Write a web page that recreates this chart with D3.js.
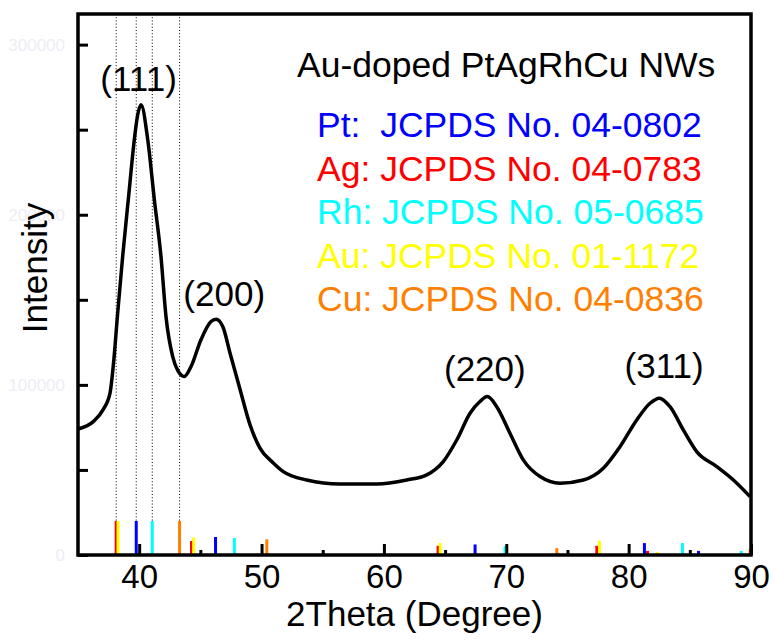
<!DOCTYPE html>
<html>
<head>
<meta charset="utf-8">
<script src="https://cdn.jsdelivr.net/npm/d3@7"></script>
<style>
body { margin: 0; background: #fff; }
text { font-family: "Liberation Sans", Arial, sans-serif; }
</style>
</head>
<body>
<script>
var w = 774;
var h = 644;
var plotLeft = 78, plotRight = 751, plotTop = 14, plotBottom = 555;

// XRD pattern (2theta, intensity)
var twoTheta = [35.0, 36.25, 37.04, 37.62, 37.88, 38.24, 38.65, 39.19, 39.60, 39.88,
  40.15, 40.70, 41.24, 41.78, 42.19, 42.74, 43.17, 43.69, 44.24, 45.05,
  45.87, 46.28, 46.83, 47.45, 48.20, 49.06, 49.87, 50.96, 51.78, 53.69,
  56.41, 59.41, 61.86, 63.50, 64.85, 65.95, 67.04, 67.85, 68.45, 69.22,
  70.30, 71.39, 72.76, 74.39, 76.30, 77.93, 79.30, 80.66, 81.75, 82.51,
  83.38, 84.47, 85.56, 87.20, 88.56, 89.92];
var intensity = [74100, 78400, 85300, 95300, 111000, 142000, 175500, 214700, 244100, 258800,
  264700, 244100, 208800, 175500, 140200, 116600, 108200, 104900, 110800, 126500,
  137200, 138600, 134300, 118000, 98500, 76500, 62800, 54100, 49000, 44100,
  41800, 41800, 44100, 47100, 54900, 67600, 83300, 90200, 93100, 87200,
  71600, 55900, 46100, 42200, 44100, 51000, 63700, 79400, 89200, 92200,
  87200, 73500, 60800, 52000, 44100, 34300];

// standard cards: positions and relative intensities
var ptPos = [39.76, 46.24, 67.45, 81.29, 85.71];
var ptRel = [100, 53, 31, 35, 12];
var agPos = [38.12, 44.28, 64.43, 77.40, 81.54];
var agRel = [100, 41, 27, 27, 12];
var rhPos = [41.07, 47.78, 69.90, 84.40, 89.20];
var rhRel = [100, 50, 26, 35, 12];
var auPos = [38.27, 44.45, 64.60, 77.62, 82.35];
var auRel = [100, 52, 35, 42, 9];
var cuPos = [43.30, 50.43, 74.13, 89.93];
var cuRel = [100, 46, 20, 17];

var guideLines = [38.12, 39.76, 41.07, 43.30];

var peakLabels = ["(111)", "(200)", "(220)", "(311)"];
var peakLabelPos = [[39.95, 91], [46.95, 306], [68.25, 381], [82.9, 378]];

var legendLines = ["Pt:  JCPDS No. 04-0802", "Ag: JCPDS No. 04-0783", "Rh: JCPDS No. 05-0685",
  "Au: JCPDS No. 01-1172", "Cu: JCPDS No. 04-0836"];
var legendColors = ["#0000ff", "#ff0000", "#00ffff", "#ffff00", "#ff8000"];

var xMajor = [40, 50, 60, 70, 80, 90];
var xMinor = [45, 55, 65, 75, 85];
var yMajor = [0, 100000, 200000, 300000];
var yMinor = [50000, 150000, 250000];

var xScale = d3.scaleLinear().domain([35, 90]).range([plotLeft, plotRight]);
var yScale = d3.scaleLinear().domain([0, 318000]).range([plotBottom, plotTop]);
// relative intensity of a card line -> intensity units (100 % = 20000)
var relScale = d3.scaleLinear().domain([0, 100]).range([0, 20000]);

var svg = d3.select("body").append("svg")
  .attr("width", w)
  .attr("height", h);

// dotted guide lines
svg.selectAll(".guide")
  .data(guideLines)
  .enter().append("line")
  .attr("x1", function(d) { return xScale(d); })
  .attr("x2", function(d) { return xScale(d); })
  .attr("y1", plotTop)
  .attr("y2", plotBottom)
  .attr("stroke", "#000")
  .attr("stroke-width", 1)
  .attr("stroke-dasharray", "1,2.2");

// card bars
var cards = [
  {pos: ptPos, rel: ptRel, color: legendColors[0]},
  {pos: agPos, rel: agRel, color: legendColors[1]},
  {pos: rhPos, rel: rhRel, color: legendColors[2]},
  {pos: auPos, rel: auRel, color: legendColors[3]},
  {pos: cuPos, rel: cuRel, color: legendColors[4]}
];
cards.forEach(function(c) {
  svg.append("g").selectAll("rect")
    .data(c.pos)
    .enter().append("rect")
    .attr("x", function(d) { return xScale(d) - 1.5; })
    .attr("y", function(d, i) { return yScale(relScale(c.rel[i])); })
    .attr("width", 3)
    .attr("height", function(d, i) { return yScale(0) - yScale(relScale(c.rel[i])); })
    .attr("fill", c.color);
});

// pattern line
var line = d3.line()
  .x(function(d, i) { return xScale(twoTheta[i]); })
  .y(function(d) { return yScale(d); })
  .curve(d3.curveMonotoneX);

svg.append("path")
  .datum(intensity)
  .attr("d", line)
  .attr("fill", "none")
  .attr("stroke", "#000")
  .attr("stroke-width", 3.5)
  .attr("stroke-linejoin", "round");

// axes
var xAxis = d3.axisBottom(xScale).tickValues(xMajor).tickSize(-11).tickPadding(10).tickFormat(d3.format("d"));
var xAxisMinor = d3.axisBottom(xScale).tickValues(xMinor).tickSize(-5).tickFormat("");
var yAxis = d3.axisLeft(yScale).tickValues(yMajor).tickSize(-10).tickPadding(13).tickFormat(d3.format("d"));
var yAxisMinor = d3.axisLeft(yScale).tickValues(yMinor).tickSize(-10).tickFormat("");

var gx = svg.append("g").attr("transform", "translate(0," + plotBottom + ")").call(xAxis);
svg.append("g").attr("transform", "translate(0," + plotBottom + ")").call(xAxisMinor);
var gy = svg.append("g").attr("transform", "translate(" + plotLeft + ",0)").call(yAxis);
svg.append("g").attr("transform", "translate(" + plotLeft + ",0)").call(yAxisMinor);

svg.selectAll(".domain").attr("stroke", "none");
svg.selectAll(".tick line").attr("stroke", "#000").attr("stroke-width", 3);
gx.selectAll("text").attr("font-size", 33).attr("fill", "#000")
  .style("font-family", "'Liberation Sans', Arial, sans-serif");
gy.selectAll("text").attr("font-size", 17).attr("fill", "#eeedf5")
  .style("font-family", "'Liberation Sans', Arial, sans-serif");

// frame
svg.append("rect")
  .attr("x", plotLeft)
  .attr("y", plotTop)
  .attr("width", plotRight - plotLeft)
  .attr("height", plotBottom - plotTop)
  .attr("fill", "none")
  .attr("stroke", "#000")
  .attr("stroke-width", 3.5);

// peak labels
svg.selectAll(".peak")
  .data(peakLabels)
  .enter().append("text")
  .attr("x", function(d, i) { return xScale(peakLabelPos[i][0]); })
  .attr("y", function(d, i) { return peakLabelPos[i][1]; })
  .attr("text-anchor", "middle")
  .attr("font-size", 35)
  .text(function(d) { return d; });

// legend
svg.append("text")
  .attr("x", 297)
  .attr("y", 77)
  .attr("font-size", 35.5)
  .text("Au-doped PtAgRhCu NWs");

svg.selectAll(".leg")
  .data(legendLines)
  .enter().append("text")
  .attr("x", 317)
  .attr("y", function(d, i) { return 137 + i * 43.5; })
  .attr("font-size", 35.5)
  .attr("fill", function(d, i) { return legendColors[i]; })
  .style("white-space", "pre")
  .text(function(d) { return d; });

// axis titles
svg.append("text")
  .attr("x", (plotLeft + plotRight) / 2)
  .attr("y", 626)
  .attr("text-anchor", "middle")
  .attr("font-size", 35)
  .text("2Theta (Degree)");

svg.append("text")
  .attr("transform", "translate(47,268) rotate(-90)")
  .attr("text-anchor", "middle")
  .attr("font-size", 35)
  .text("Intensity");
</script>
</body>
</html>
